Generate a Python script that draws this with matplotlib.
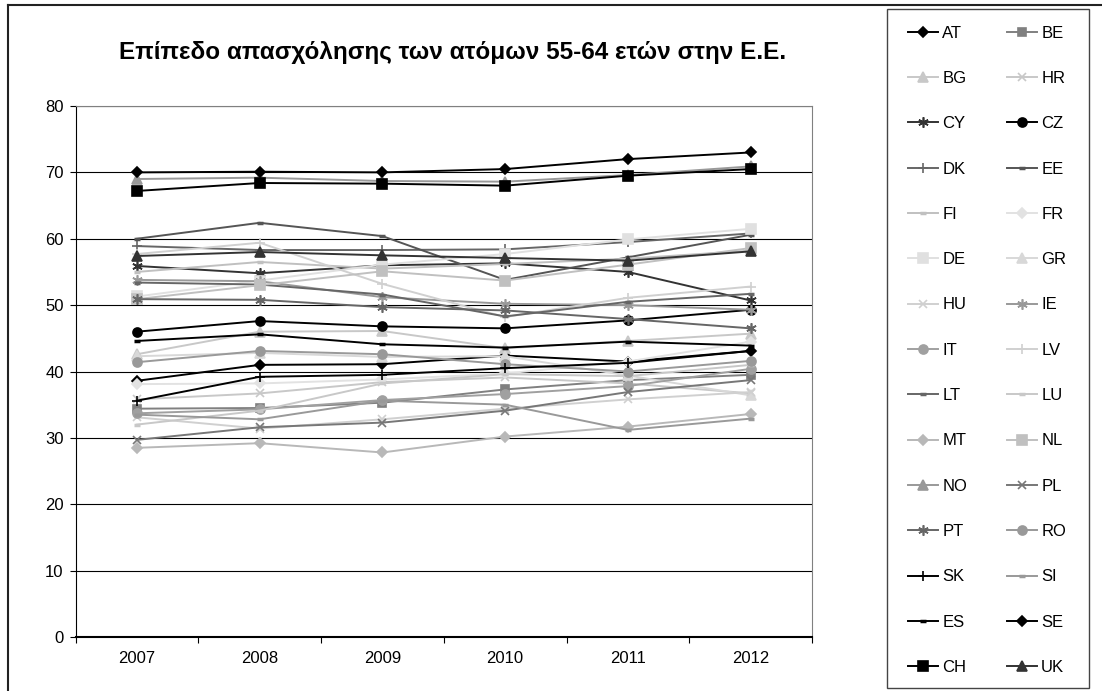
import numpy as np
import matplotlib
matplotlib.use("Agg")
import matplotlib.pyplot as plt
from matplotlib.patches import Rectangle
from matplotlib.lines import Line2D

plt.rcParams['font.family'] = ['Liberation Sans', 'DejaVu Sans']

years = ['2007', '2008', '2009', '2010', '2011', '2012']

# employment rate 55-64 (%)
AT = [38.6, 41.0, 41.1, 42.4, 41.5, 43.1]
BE = [34.4, 34.5, 35.3, 37.3, 38.7, 39.5]
BG = [42.6, 46.0, 46.1, 43.5, 44.6, 45.7]
HR = [35.8, 36.7, 38.4, 39.1, 38.2, 36.7]
CY = [55.9, 54.8, 56.0, 56.3, 55.0, 50.7]
CZ = [46.0, 47.6, 46.8, 46.5, 47.7, 49.3]
DK = [58.9, 58.3, 58.3, 58.4, 59.5, 60.8]
EE = [60.0, 62.4, 60.4, 53.8, 57.2, 60.6]
FI = [55.0, 56.5, 55.5, 56.2, 57.0, 58.2]
FR = [38.1, 38.2, 38.8, 39.7, 41.5, 44.5]
DE = [51.3, 53.7, 56.1, 57.7, 59.9, 61.5]
GR = [42.3, 42.8, 42.2, 42.3, 39.4, 36.4]
HU = [33.1, 31.4, 32.8, 34.4, 35.8, 36.9]
IE = [53.8, 53.6, 51.2, 50.2, 50.0, 49.3]
IT = [33.7, 34.3, 35.7, 36.6, 37.8, 40.4]
LV = [57.7, 59.4, 53.2, 48.2, 51.1, 52.8]
LT = [53.4, 53.1, 51.6, 48.3, 50.5, 51.7]
LU = [32.0, 34.1, 38.2, 39.6, 39.3, 41.0]
MT = [28.5, 29.2, 27.8, 30.2, 31.7, 33.6]
NL = [50.9, 53.0, 55.1, 53.7, 56.1, 58.6]
NO = [69.0, 69.2, 68.7, 68.6, 69.6, 70.9]
PL = [29.7, 31.6, 32.3, 34.1, 36.9, 38.7]
PT = [50.9, 50.8, 49.7, 49.2, 47.9, 46.5]
RO = [41.4, 43.1, 42.6, 41.1, 40.0, 41.6]
SK = [35.6, 39.2, 39.5, 40.5, 41.3, 43.1]
SI = [33.5, 32.8, 35.6, 35.0, 31.2, 32.9]
ES = [44.6, 45.6, 44.1, 43.6, 44.5, 43.9]
SE = [70.0, 70.1, 70.0, 70.5, 72.0, 73.0]
CH = [67.2, 68.4, 68.3, 68.0, 69.5, 70.5]
UK = [57.4, 58.0, 57.5, 57.1, 56.7, 58.1]

series = [('AT', AT), ('BE', BE), ('BG', BG), ('HR', HR), ('CY', CY), ('CZ', CZ),
          ('DK', DK), ('EE', EE), ('FI', FI), ('FR', FR), ('DE', DE), ('GR', GR),
          ('HU', HU), ('IE', IE), ('IT', IT), ('LV', LV), ('LT', LT), ('LU', LU),
          ('MT', MT), ('NL', NL), ('NO', NO), ('PL', PL), ('PT', PT), ('RO', RO),
          ('SK', SK), ('SI', SI), ('ES', ES), ('SE', SE), ('CH', CH), ('UK', UK)]

ast = (6, 2, 0)  # excel-like asterisk
styles = {
    'AT': ('#000000', 'D', 5), 'BE': ('#808080', 's', 6),
    'BG': ('#c8c8c8', '^', 6.5), 'HR': ('#c8c8c8', 'x', 5.5),
    'CY': ('#333333', ast, 7.5), 'CZ': ('#000000', 'o', 6.5),
    'DK': ('#666666', '+', 7.5), 'EE': ('#555555', '_', 5),
    'FI': ('#c0c0c0', '_', 5), 'FR': ('#e2e2e2', 'D', 5),
    'DE': ('#e0e0e0', 's', 6.5), 'GR': ('#d8d8d8', '^', 6.5),
    'HU': ('#d0d0d0', 'x', 5.5), 'IE': ('#999999', ast, 7.5),
    'IT': ('#a0a0a0', 'o', 6.5), 'LV': ('#d0d0d0', '+', 7.5),
    'LT': ('#666666', '_', 5), 'LU': ('#c8c8c8', '_', 5),
    'MT': ('#b8b8b8', 'D', 5), 'NL': ('#c0c0c0', 's', 6.5),
    'NO': ('#999999', '^', 6.5), 'PL': ('#777777', 'x', 5.5),
    'PT': ('#666666', ast, 7.5), 'RO': ('#999999', 'o', 6.5),
    'SK': ('#000000', '+', 7.5), 'SI': ('#999999', '_', 5),
    'ES': ('#000000', '_', 5), 'SE': ('#000000', 'D', 5),
    'CH': ('#000000', 's', 6.5), 'UK': ('#333333', '^', 6.5),
}

W, H = 1102, 691
fig = plt.figure(figsize=(W / 100, H / 100), dpi=100)
ax = fig.add_axes([75.5 / W, 1 - 637 / H, (812 - 75.5) / W, (637 - 106) / H])

x = np.arange(len(years))
handles = []
for name, vals in series:
    col, mk, ms = styles[name]
    mew = 2.5 if mk == '_' else 1.2
    ln, = ax.plot(x, vals, color=col, lw=1.4, marker=mk, markersize=ms,
                  markerfacecolor=col, markeredgecolor=col, markeredgewidth=mew,
                  label=name, clip_on=False)
    handles.append(ln)

ax.set_xlim(-0.5, 5.5)
ax.set_ylim(0, 80)
ax.set_yticks(range(0, 81, 10))
ax.yaxis.grid(True, color='black', lw=0.8)
ax.set_axisbelow(True)
ax.set_xticks(np.arange(-0.5, 6, 1))
ax.set_xticklabels([])
ax.set_xticks(x, minor=True)
ax.set_xticklabels(years, minor=True)
ax.tick_params(axis='x', which='minor', length=0, pad=10, labelsize=12)
ax.tick_params(axis='x', which='major', length=4.5, direction='out', width=0.8)
ax.tick_params(axis='y', length=4.5, direction='out', width=0.8, pad=4, labelsize=12)
for s in ['top', 'right']:
    ax.spines[s].set_color('#808080')
ax.spines['left'].set_color('black')
ax.spines['bottom'].set_color('black')
ax.spines['bottom'].set_linewidth(1.5)

fig.text(453 / W, 1 - 53 / H, 'Επίπεδο απασχόλησης των ατόμων 55-64 ετών στην Ε.Ε.',
         ha='center', va='center', fontsize=17.5, fontweight='bold')

# outer chart frame (only top and left are visible)
fig.add_artist(Line2D([8 / W, 8 / W], [0, 1 - 5 / H], color='#222222', lw=1.5))
fig.add_artist(Line2D([8 / W, 1], [1 - 5 / H, 1 - 5 / H], color='#222222', lw=1.5))

# legend: two columns filled row by row
order = handles[0::2] + handles[1::2]
fig.legend(order, [h.get_label() for h in order], ncol=2, loc='upper left',
           bbox_to_anchor=(908 / W, 1 - 25.5 / H), frameon=False, borderpad=0,
           borderaxespad=0, handlelength=1.8, handletextpad=0.25,
           columnspacing=2.4, labelspacing=1.82, fontsize=12)
fig.add_artist(Rectangle((887 / W, 1 - 688 / H), (1089 - 887) / W, (688 - 9) / H,
                         fill=False, edgecolor='#444444', lw=1.0,
                         transform=fig.transFigure))

fig.savefig('out.png', dpi=100)
